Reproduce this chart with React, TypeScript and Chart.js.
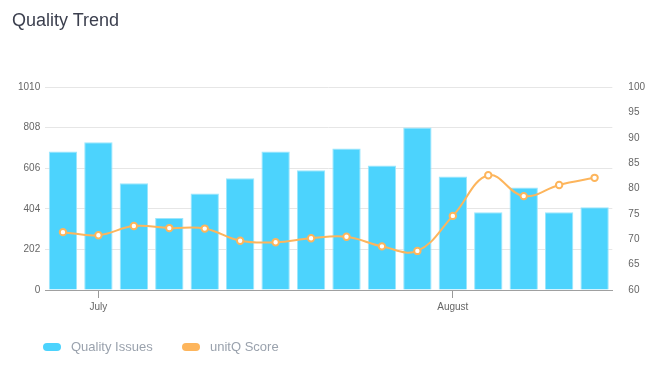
import React, { useEffect, useRef } from "react";
import { Chart, registerables } from "chart.js";

Chart.register(...registerables);

const categories = ["", "July", "", "", "", "", "", "", "", "", "", "August", "", "", "", ""];
const qualityIssues = [689, 735, 531, 358, 480, 556, 689, 596, 704, 619, 808, 565, 387, 510, 387, 412];
const unitQScore = [71.4, 70.8, 72.6, 72.2, 72.1, 69.7, 69.4, 70.2, 70.5, 68.6, 67.7, 74.6, 82.6, 78.5, 80.7, 82.1];
const leftTicks = [0, 202, 404, 606, 808, 1010];
const rightTicks = [60, 65, 70, 75, 80, 85, 90, 95, 100];

const BAR_COLOR = "#4cd3fd";
const BAR_BORDER = "#9ce6fc";
const LINE_COLOR = "#fdb55c";
const FONT = "'Liberation Sans', Arial, Helvetica, sans-serif";

export default function App() {
  const canvasRef = useRef<HTMLCanvasElement | null>(null);

  useEffect(() => {
    document.body.style.margin = "0";
    const canvas = canvasRef.current;
    if (!canvas) return;
    Chart.defaults.font.family = FONT;
    const chart = new Chart(canvas, {
      type: "bar",
      data: {
        labels: categories,
        datasets: [
          {
            type: "line",
            label: "unitQ Score",
            data: unitQScore,
            yAxisID: "y1",
            borderColor: LINE_COLOR,
            backgroundColor: LINE_COLOR,
            borderWidth: 2,
            tension: 0.4,
            pointRadius: 3.2,
            pointBorderWidth: 2,
            pointBackgroundColor: "#ffffff",
            pointBorderColor: LINE_COLOR,
            fill: false,
            order: 0,
          },
          {
            type: "bar",
            label: "Quality Issues",
            data: qualityIssues,
            yAxisID: "y",
            backgroundColor: BAR_COLOR,
            borderColor: BAR_BORDER,
            borderWidth: 1,
            barPercentage: 0.8,
            categoryPercentage: 1.0,
            order: 1,
          },
        ],
      },
      options: {
        responsive: false,
        animation: false,
        maintainAspectRatio: false,
        layout: { padding: { left: 13, right: 5, top: 87, bottom: 68 } },
        plugins: {
          legend: { display: false },
          title: { display: false },
          tooltip: { enabled: false },
        },
        scales: {
          x: {
            offset: true,
            grid: {
              offset: false,
              drawOnChartArea: false,
              drawTicks: true,
              tickLength: 8,
              tickColor: (ctx: any) => (categories[ctx.index] ? "#999999" : "rgba(0,0,0,0)"),
            },
            border: { display: true, color: "#a0a0a0", width: 1 },
            ticks: {
              autoSkip: false,
              maxRotation: 0,
              minRotation: 0,
              padding: 3,
              color: "#666666",
              font: { size: 10 },
            },
          },
          y: {
            position: "left",
            min: 0,
            max: 1010,
            afterBuildTicks: (scale: any) => {
              scale.ticks = leftTicks.map((v) => ({ value: v }));
            },
            grid: { color: "#e6e6e6", drawTicks: false },
            border: { display: false },
            ticks: {
              padding: 5,
              color: "#666666",
              font: { size: 10 },
              callback: (v: any) => String(v),
            },
          },
          y1: {
            position: "right",
            min: 60,
            max: 100,
            afterBuildTicks: (scale: any) => {
              scale.ticks = rightTicks.map((v) => ({ value: v }));
            },
            grid: { display: false, drawOnChartArea: false, drawTicks: false },
            border: { display: false },
            ticks: {
              padding: 16,
              color: "#666666",
              font: { size: 10 },
              callback: (v: any) => String(v),
            },
          },
        },
      },
    });
    return () => chart.destroy();
  }, []);

  const legendItem = (color: string, label: string, left: number) => (
    <div
      style={{
        position: "absolute",
        left,
        top: 340,
        display: "flex",
        alignItems: "center",
        height: 13,
      }}
    >
      <span
        style={{
          display: "inline-block",
          width: 18,
          height: 8,
          borderRadius: 4,
          background: color,
          marginRight: 10,
        }}
      />
      <span style={{ fontFamily: FONT, fontSize: 13, lineHeight: "13px", color: "#9aa2ad" }}>{label}</span>
    </div>
  );

  return (
    <div style={{ position: "relative", width: 666, height: 384, overflow: "hidden" }}>
      <canvas ref={canvasRef} width={666} height={384} style={{ display: "block" }} />
      <div
        style={{
          position: "absolute",
          left: 12,
          top: 11,
          fontFamily: FONT,
          fontSize: 18,
          lineHeight: "18px",
          color: "#3b3f4e",
        }}
      >
        Quality Trend
      </div>
      {legendItem(BAR_COLOR, "Quality Issues", 43)}
      {legendItem(LINE_COLOR, "unitQ Score", 182)}
    </div>
  );
}
